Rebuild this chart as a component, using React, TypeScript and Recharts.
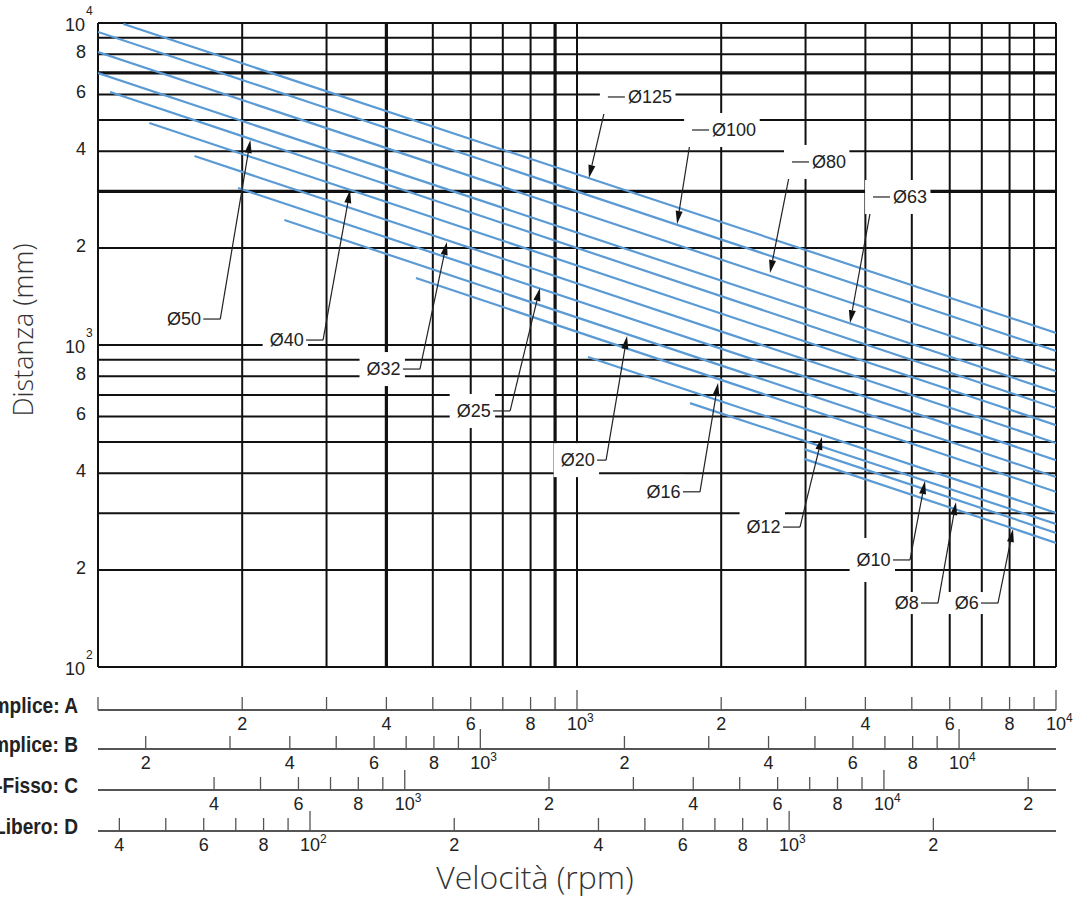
import * as React from 'react';
import { ComposedChart, Line, XAxis, YAxis, ReferenceLine, ReferenceDot } from 'recharts';

// screw diameters, one blue line each (top to bottom)
const diameters = ['Ø125', 'Ø100', 'Ø80', 'Ø63', 'Ø50', 'Ø40', 'Ø32', 'Ø25', 'Ø20', 'Ø16', 'Ø12', 'Ø10', 'Ø8', 'Ø6'];
// start / end of each line: speed on scale A (rpm) and distance (mm)
const lineStartRpm = [113, 100, 100, 100, 106, 128, 159, 196, 245, 461, 1054, 1721, 2978, 2978];
const lineStartMm = [9930, 9380, 8125, 6990, 6106, 4891, 3864, 3073, 2444, 1615, 918, 660, 475, 443];
const lineEndRpm = [10000, 10000, 10000, 10000, 10000, 10000, 10000, 10000, 10000, 10000, 10000, 10000, 10000, 10000];
const lineEndMm = [1090, 958, 830, 714, 637, 564, 496, 439, 389, 350, 301, 278, 261, 243];

// callouts: elbow of the leader and arrow tip
const calloutElbowRpm = [1160, 1739, 2811, 4150, 180, 295, 470, 725, 1150, 1806, 2921, 4957, 5670, 7566];
const calloutElbowMm = [5892, 4653, 3702, 2882, 1204, 1036, 842, 624, 439, 350, 272, 215, 158, 158];
const calloutTipRpm = [1059, 1618, 2529, 3715, 208, 336, 535, 837, 1272, 1970, 3247, 5328, 6183, 8133];
const calloutTipMm = [3301, 2376, 1673, 1170, 4331, 3029, 2089, 1503, 1066, 762, 518, 378, 325, 268];
const calloutTextRight = [true, true, true, true, false, false, false, false, false, false, false, false, false, false];

// axes
const distanceTicks = [100, 200, 300, 400, 500, 600, 700, 800, 900, 1000, 2000, 3000, 4000, 5000, 6000, 7000, 8000, 9000, 10000];
const distanceThick = [3000, 7000];
const speedTicksA = [100, 200, 300, 400, 500, 600, 700, 800, 900, 1000, 2000, 3000, 4000, 5000, 6000, 7000, 8000, 9000, 10000];
const speedThick = [400, 900];
const speedTicksB = [200, 300, 400, 500, 600, 700, 800, 900, 1000, 2000, 3000, 4000, 5000, 6000, 7000, 8000, 9000, 10000];
const speedTicksC = [400, 500, 600, 700, 800, 900, 1000, 2000, 3000, 4000, 5000, 6000, 7000, 8000, 9000, 10000, 20000];
const speedTicksD = [40, 50, 60, 70, 80, 90, 100, 200, 300, 400, 500, 600, 700, 800, 900, 1000, 2000];
const domainA = [100, 10000];
const domainB = [159, 15940];
const domainC = [229, 22860];
const domainD = [36.1, 3606];
const rowTitles = ['Semplice-Semplice: A', 'Fisso-Semplice: B', 'Fisso-Fisso: C', 'Fisso-Libero: D'];

const NUM = '"Liberation Sans", Arial, sans-serif';
const TITLE = '"Open Sans", "Noto Sans", sans-serif';
const BLUE = '#5b9bd5';
const INK = '#111';
const AXIS = '#555';

function tickText(v: number): { base: string; sup?: string } | null {
  const e = Math.log10(v);
  const r = Math.round(e);
  if (Math.abs(e - r) < 1e-9) return { base: '10', sup: String(r) };
  const lead = Math.round(v / Math.pow(10, Math.floor(e)));
  return [2, 4, 6, 8].includes(lead) ? { base: String(lead) } : null;
}

const speedTick = (skip: number[]) => (props: any) => {
  const { x, y, payload } = props;
  const t = skip.includes(payload.value) ? null : tickText(payload.value);
  const major = !!(t && t.sup);
  return (
    <g>
      <line x1={x} x2={x} y1={y} y2={y - (major ? 20 : 13)} stroke={AXIS} strokeWidth={1.3} />
      {t && (
        <text x={x} y={y + 20} textAnchor="middle" fontFamily={NUM} fontSize={18} fill="#222">{t.base}</text>
      )}
      {t && t.sup && (
        <text x={x + 10} y={y + 12} fontFamily={NUM} fontSize={12} fill="#222">{t.sup}</text>
      )}
    </g>
  );
};

const DistanceTick = (props: any) => {
  const { x, y, payload } = props;
  const t = tickText(payload.value);
  if (!t) return <g />;
  if (t.sup) {
    return (
      <g>
        <text x={x - 1} y={y + 8} textAnchor="end" fontFamily={NUM} fontSize={18} fill="#222">{t.base}</text>
        <text x={x} y={y - 8} fontFamily={NUM} fontSize={12} fill="#222">{t.sup}</text>
      </g>
    );
  }
  return <text x={x} y={y + 4} textAnchor="end" fontFamily={NUM} fontSize={18} fill="#222">{t.base}</text>;
};

const rowTitle = (title: string, extra?: React.ReactNode) => (p: any) => {
  const vb = p.viewBox || {};
  return (
    <g>
      <text transform={`translate(${vb.x - 20},${vb.y + 3}) scale(0.87,1)`} textAnchor="end"
        fontFamily={NUM} fontWeight={700} fontSize={22} fill="#222">{title}</text>
      {extra}
    </g>
  );
};

const boxHalf: Record<string, number> = { 'Ø10': 22, 'Ø8': 11, 'Ø6': 11 };
const textGap: Record<string, number> = { 'Ø20': 12 };

const calloutShape = (name: string, right: boolean) => (p: any) => {
  const { cx, cy } = p;
  const w = 13 + 10.2 * (name.length - 1);
  const gap = textGap[name] ?? 20;
  const tx0 = right ? cx + gap : cx - gap - w;
  const bx0 = right ? cx - 8 : tx0 - 7;
  const bx1 = right ? tx0 + w + 4 : tx0 + w + 5;
  const h = boxHalf[name] ?? 17;
  const lx = right ? cx + gap - 3 : cx - gap + 3;
  return (
    <g>
      <rect x={bx0} y={cy - h} width={bx1 - bx0} height={2 * h} fill="#fff" />
      <line x1={cx} y1={cy} x2={lx} y2={cy} stroke="#222" strokeWidth={1.2} />
      <text x={tx0} y={cy + 6} fontFamily={NUM} fontSize={18} fill="#222">{name}</text>
    </g>
  );
};

const ArrowShape = (p: any) => {
  const { x1, y1, x2, y2 } = p;
  const dx = x2 - x1;
  const dy = y2 - y1;
  const len = Math.hypot(dx, dy) || 1;
  const ux = dx / len;
  const uy = dy / len;
  const bx = x2 - ux * 13;
  const by = y2 - uy * 13;
  const pts = `${x2},${y2} ${bx - uy * 3.5},${by + ux * 3.5} ${bx + uy * 3.5},${by - ux * 3.5}`;
  return (
    <g>
      <line x1={x1} y1={y1} x2={bx} y2={by} stroke="#222" strokeWidth={1.2} />
      <polygon points={pts} fill="#111" />
    </g>
  );
};

const axisLine = { stroke: AXIS, strokeWidth: 1.8 };

// invisible carrier so that the secondary speed scales get a scale of their own
const carrier = (dom: number[]) => [{ n: dom[0], L: 100 }, { n: dom[1], L: 100 }];

export default function App() {
  const series = diameters.map((d, i) => ({
    name: d,
    data: [
      { n: lineStartRpm[i], L: lineStartMm[i] },
      { n: lineEndRpm[i], L: lineEndMm[i] },
    ],
  }));
  return (
    <div style={{ position: 'absolute', left: 0, top: 0, width: 1079, height: 900, background: '#fff' }}>
      <ComposedChart width={1079} height={900} margin={{ top: 23, right: 23, bottom: 0, left: 0 }}>
        <XAxis xAxisId="x0" type="number" scale="log" domain={domainA} allowDataOverflow height={43}
          axisLine={false} tickLine={false} tick={false} />
        <XAxis
          xAxisId="x1" dataKey="n" type="number" scale="log" domain={domainA} allowDataOverflow ticks={speedTicksA} interval={0}
          height={39} tickSize={0} tickMargin={0} tickLine={false} axisLine={axisLine}
          tick={speedTick([100])} label={rowTitle(rowTitles[0])}
        />
        <XAxis
          xAxisId="x2" dataKey="n" type="number" scale="log" domain={domainB} allowDataOverflow ticks={speedTicksB} interval={0}
          height={41} tickSize={0} tickMargin={0} tickLine={false} axisLine={axisLine}
          tick={speedTick([])} label={rowTitle(rowTitles[1])}
        />
        <XAxis
          xAxisId="x3" dataKey="n" type="number" scale="log" domain={domainC} allowDataOverflow ticks={speedTicksC} interval={0}
          height={41} tickSize={0} tickMargin={0} tickLine={false} axisLine={axisLine}
          tick={speedTick([])} label={rowTitle(rowTitles[2])}
        />
        <XAxis
          xAxisId="x4" dataKey="n" type="number" scale="log" domain={domainD} allowDataOverflow ticks={speedTicksD} interval={0}
          height={69} tickSize={0} tickMargin={0} tickLine={false} axisLine={axisLine}
          tick={speedTick([])}
          label={rowTitle(
            rowTitles[3],
            <text x={535} y={889} textAnchor="middle" fontFamily={TITLE} fontWeight={300} fontSize={32} fill="#333">Velocità (rpm)</text>,
          )}
        />
        <YAxis
          yAxisId="l" type="number" scale="log" domain={domainA} allowDataOverflow ticks={distanceTicks} interval={0}
          width={98} tickSize={0} tickMargin={12} tickLine={false} axisLine={false} tick={DistanceTick}
          label={() => (
            <text x={22} y={330} transform="rotate(-90 22 330)" textAnchor="middle" dominantBaseline="central"
              fontFamily={TITLE} fontWeight={300} fontSize={27} fill="#333">Distanza (mm)</text>
          )}
        />
        {distanceTicks.map((v) => (
          <ReferenceLine key={'h' + v} xAxisId="x1" yAxisId="l" y={v} stroke={INK}
            strokeWidth={distanceThick.includes(v) ? 3.2 : 2} ifOverflow="visible" />
        ))}
        {speedTicksA.map((v) => (
          <ReferenceLine key={'v' + v} xAxisId="x1" yAxisId="l" x={v} stroke={INK}
            strokeWidth={speedThick.includes(v) ? 3.2 : 2} ifOverflow="visible" />
        ))}
        <Line xAxisId="x2" yAxisId="l" data={carrier(domainB)} dataKey="L" stroke="none" dot={false} activeDot={false} isAnimationActive={false} />
        <Line xAxisId="x3" yAxisId="l" data={carrier(domainC)} dataKey="L" stroke="none" dot={false} activeDot={false} isAnimationActive={false} />
        <Line xAxisId="x4" yAxisId="l" data={carrier(domainD)} dataKey="L" stroke="none" dot={false} activeDot={false} isAnimationActive={false} />
        {series.map((s) => (
          <Line key={s.name} xAxisId="x1" yAxisId="l" data={s.data} dataKey="L" name={s.name}
            stroke={BLUE} strokeWidth={2.2} dot={false} activeDot={false} isAnimationActive={false} />
        ))}
        {diameters.map((d, i) => (
          <ReferenceDot key={'c' + d} xAxisId="x1" yAxisId="l" x={calloutElbowRpm[i]} y={calloutElbowMm[i]}
            r={0} shape={calloutShape(d, calloutTextRight[i])} />
        ))}
        {diameters.map((d, i) => (
          <ReferenceLine key={'a' + d} xAxisId="x1" yAxisId="l"
            segment={[{ x: calloutElbowRpm[i], y: calloutElbowMm[i] }, { x: calloutTipRpm[i], y: calloutTipMm[i] }]}
            shape={ArrowShape} />
        ))}
      </ComposedChart>
    </div>
  );
}
